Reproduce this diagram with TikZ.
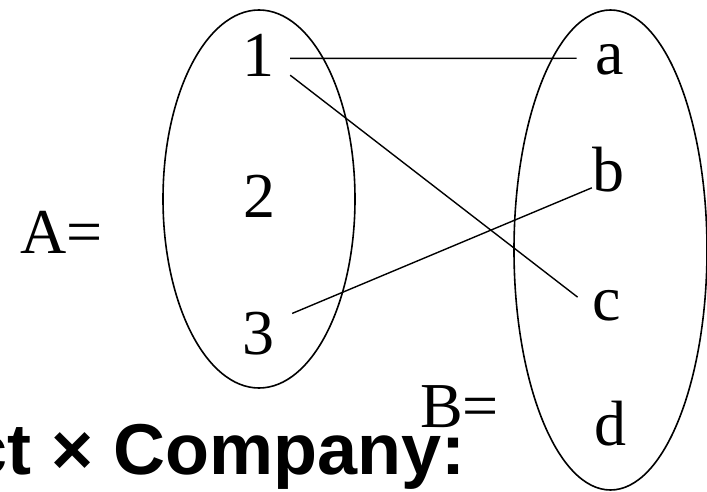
\documentclass[tikz,border=0pt]{standalone}
\usepackage{fontspec}
\setmainfont{Liberation Serif}
\setsansfont{Liberation Sans}
\usetikzlibrary{positioning}

\begin{document}
\begin{tikzpicture}[
    x=1pt, y=-1pt,
    every node/.style={inner sep=0pt, anchor=base, font=\fontsize{64}{64}\selectfont},
    elem/.style={},
    setname/.style={anchor=base west},
    caption/.style={anchor=base west, font=\fontsize{72}{72}\selectfont\sffamily\bfseries},
    setline/.style={line width=1.6pt},
    link/.style={line width=1.4pt}
]
\useasboundingbox (0,0) rectangle (707,492);
\clip (0,0) rectangle (707,492);

% the two sets
\draw[setline] (259,199) ellipse [x radius=96, y radius=189];
\draw[setline] (610.5,250) ellipse [x radius=96.5, y radius=240];

\node[elem] (n1) at (258,77) {1};
\node[elem] (n2) at (259,217) {2};
\node[elem] (n3) at (258,354) {3};

\node[elem] (na) at (610,75) {a};
\node[elem] (nb) at (608,192) {b};
\node[elem] (nc) at (607,320) {c};
\node[elem] (nd) at (610,445) {d};

\node[setname] (seta) at (20,253) {A=};
\node[setname] (setb) at (420,427) {B=};

\node[caption] (title) at (-33,474) {ct × Company:};

% pairs of the relation
\draw[link] ([xshift=16pt, yshift=-2.5pt]n1.east) -- ([xshift=-19pt, yshift=2pt]na.west);
\draw[link] ([xshift=16pt, yshift=2pt]n1.south east) -- ([xshift=-15pt, yshift=-7.5pt]nc.north west);
\draw[link] ([xshift=18pt, yshift=-2pt]n3.north east) -- ([yshift=5pt]nb.south west);
\end{tikzpicture}
\end{document}
